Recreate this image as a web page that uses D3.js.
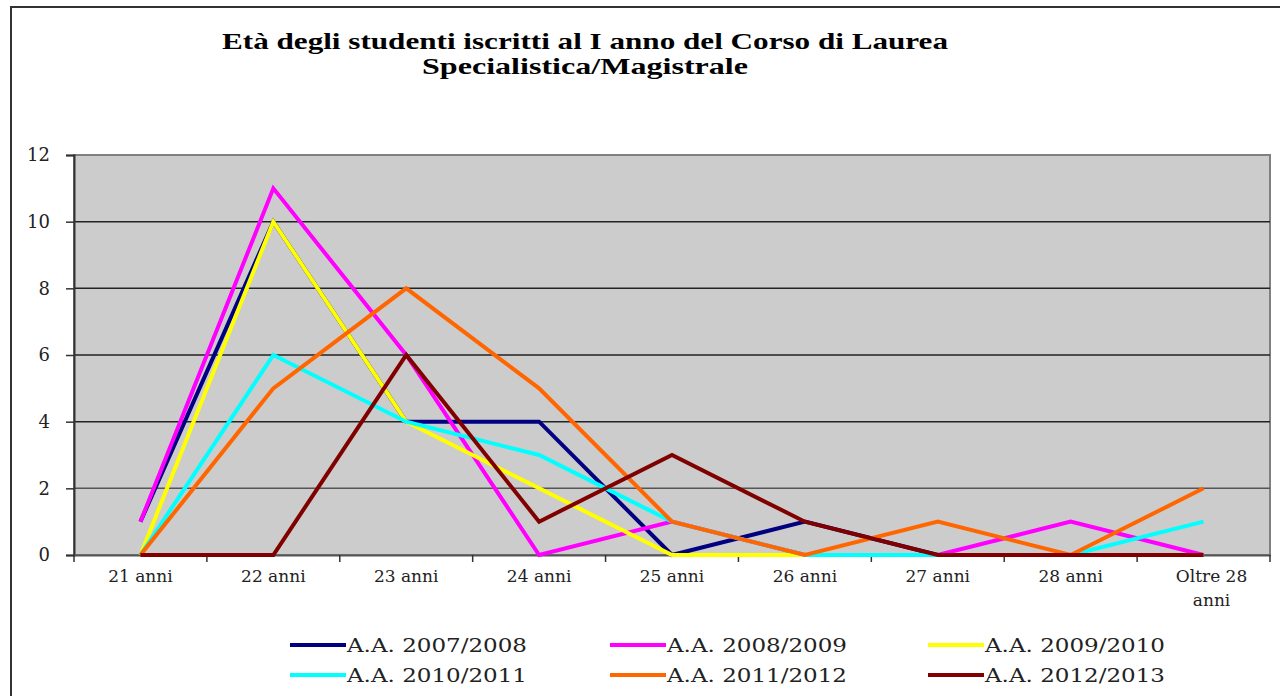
<!DOCTYPE html>
<html>
<head>
<meta charset="utf-8">
<script src="https://cdn.jsdelivr.net/npm/d3@7"></script>
<style>
  body { margin: 0; background: #fff; }
  svg { display: block; }
</style>
</head>
<body>
<svg width="1280" height="696"></svg>
<script>
var categories = ["21 anni", "22 anni", "23 anni", "24 anni", "25 anni", "26 anni", "27 anni", "28 anni", "Oltre 28 anni"];
var seriesNames = ["A.A. 2007/2008", "A.A. 2008/2009", "A.A. 2009/2010", "A.A. 2010/2011", "A.A. 2011/2012", "A.A. 2012/2013"];
var seriesColors = ["#000080", "#ff00ff", "#ffff00", "#00ffff", "#ff6600", "#800000"];
var aa0708 = [1, 10, 4, 4, 0, 1, 0, 0, 0];
var aa0809 = [1, 11, 6, 0, 1, 0, 0, 1, 0];
var aa0910 = [0, 10, 4, 2, 0, 0, 0, 0, 0];
var aa1011 = [0, 6, 4, 3, 1, 0, 0, 0, 1];
var aa1112 = [0, 5, 8, 5, 1, 0, 1, 0, 2];
var aa1213 = [0, 0, 6, 1, 3, 1, 0, 0, 0];
var yTicks = [0, 2, 4, 6, 8, 10, 12];

var allSeries = [aa0708, aa0809, aa0910, aa1011, aa1112, aa1213];

var svg = d3.select("svg");

// outer frame
svg.append("path")
  .attr("d", "M11,696V7H1280")
  .attr("fill", "none")
  .attr("stroke", "#333")
  .attr("stroke-width", 2);

// title
var title = svg.append("text")
  .attr("text-anchor", "middle")
  .attr("font-family", "Liberation Serif")
  .attr("font-weight", "bold")
  .attr("font-size", 24)
  .attr("fill", "#000");
title.append("tspan").attr("x", 585).attr("y", 49)
  .attr("textLength", 726).attr("lengthAdjust", "spacingAndGlyphs")
  .text("Età degli studenti iscritti al I anno del Corso di Laurea");
title.append("tspan").attr("x", 585).attr("y", 74)
  .attr("textLength", 326).attr("lengthAdjust", "spacingAndGlyphs")
  .text("Specialistica/Magistrale");

var plotL = 74, plotR = 1270, plotT = 155, plotB = 555;

var x = d3.scaleBand().domain(categories).range([plotL, plotR]);
var y = d3.scaleLinear().domain([0, 12]).range([plotB, plotT]);

// plot background
svg.append("rect")
  .attr("x", plotL).attr("y", plotT)
  .attr("width", plotR - plotL).attr("height", plotB - plotT)
  .attr("fill", "#cccccc")
  .attr("stroke", "#808080")
  .attr("stroke-width", 2);

// gridlines
svg.append("g").selectAll("line")
  .data(yTicks.filter(function (d) { return d > 0 && d < 12; }))
  .enter().append("line")
  .attr("x1", plotL).attr("x2", plotR)
  .attr("y1", function (d) { return y(d); })
  .attr("y2", function (d) { return y(d); })
  .attr("stroke", function (d) { return d == 2 ? "#555" : "#222"; })
  .attr("stroke-width", 1.5);

// y axis
var yAxis = svg.append("g")
  .attr("transform", "translate(" + plotL + ",0)")
  .call(d3.axisLeft(y).tickValues(yTicks).tickSize(8).tickPadding(16));
yAxis.select(".domain").attr("stroke", "#333").attr("stroke-width", 2);
yAxis.selectAll(".tick line").attr("stroke", "#333").attr("stroke-width", 1.5);
yAxis.selectAll(".tick text")
  .attr("font-family", "DejaVu Serif")
  .attr("font-size", 18)
  .attr("fill", "#222");

// x axis
var xAxis = svg.append("g")
  .attr("transform", "translate(0," + plotB + ")")
  .call(d3.axisBottom(x).tickSize(0).tickFormat(""));
xAxis.select(".domain").attr("stroke", "#555").attr("stroke-width", 2);
var bounds = categories.map(function (c) { return x(c); }).concat([plotR]);
xAxis.selectAll(".bound")
  .data(bounds)
  .enter().append("line")
  .attr("class", "bound")
  .attr("x1", function (d) { return d; }).attr("x2", function (d) { return d; })
  .attr("y1", 0).attr("y2", 7)
  .attr("stroke", "#333").attr("stroke-width", 1.5);

var xLabels = svg.append("g")
  .attr("font-family", "DejaVu Serif")
  .attr("font-size", 17)
  .attr("fill", "#222")
  .attr("text-anchor", "middle");
categories.forEach(function (c) {
  var cx = x(c) + x.bandwidth() / 2;
  var t = xLabels.append("text").attr("y", 582);
  if (c == "Oltre 28 anni") {
    t.append("tspan").attr("x", cx + 8).text("Oltre 28");
    t.append("tspan").attr("x", cx + 8).attr("y", 606).text("anni");
  } else {
    t.attr("x", cx).text(c);
  }
});

// lines
var line = d3.line()
  .x(function (d, i) { return x(categories[i]) + x.bandwidth() / 2; })
  .y(function (d) { return y(d); });

svg.append("g").selectAll("path")
  .data(allSeries)
  .enter().append("path")
  .attr("d", line)
  .attr("fill", "none")
  .attr("stroke", function (d, i) { return seriesColors[i]; })
  .attr("stroke-width", 4)
  .attr("stroke-linejoin", "miter");

// legend
var legCols = [290, 610, 928];
var legRows = [645, 675];
var legend = svg.append("g").selectAll("g")
  .data(seriesNames)
  .enter().append("g")
  .attr("transform", function (d, i) {
    return "translate(" + legCols[i % 3] + "," + legRows[Math.floor(i / 3)] + ")";
  });
legend.append("line")
  .attr("x1", 0).attr("x2", 56)
  .attr("y1", 0).attr("y2", 0)
  .attr("stroke", function (d, i) { return seriesColors[i]; })
  .attr("stroke-width", 4);
legend.append("text")
  .attr("x", 57).attr("y", 7)
  .attr("font-family", "DejaVu Serif")
  .attr("font-size", 19)
  .attr("fill", "#222")
  .attr("textLength", 180)
  .attr("lengthAdjust", "spacingAndGlyphs")
  .text(function (d) { return d; });
</script>
</body>
</html>
